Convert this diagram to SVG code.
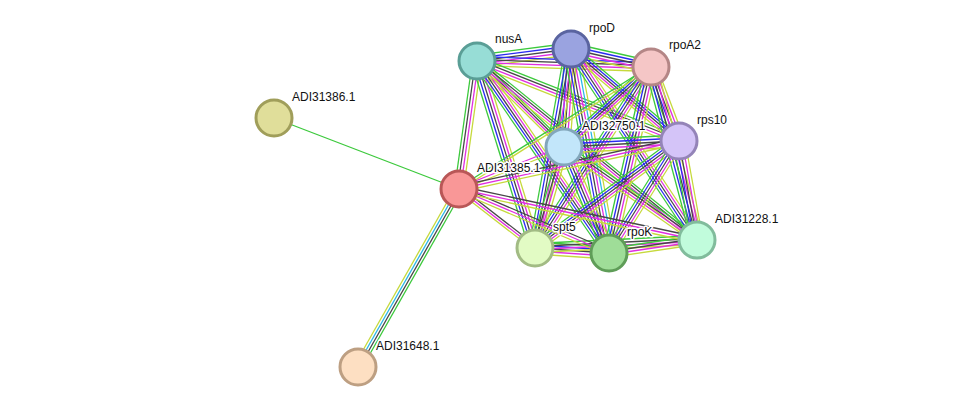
<svg xmlns="http://www.w3.org/2000/svg" xmlns:xlink="http://www.w3.org/1999/xlink" width="975" height="413" viewBox="0 0 975 413">
<style>
line{stroke-width:1.3;fill:none}
.g{stroke:#3cc93c}.b{stroke:#2a2af0}.k{stroke:#474747}.m{stroke:#e02ee0}.c{stroke:#2ab8e6}.y{stroke:#c6d93c}
circle{stroke-width:3}
text{font-family:"Liberation Sans",Arial,sans-serif;font-size:12px;fill:#111;stroke:#fff;stroke-width:3;paint-order:stroke;stroke-linejoin:round}
</style>
<defs>
<line id="AD" x1="477" y1="61" x2="571" y2="49"/>
<line id="AP" x1="477" y1="61" x2="651" y2="67"/>
<line id="DP" x1="571" y1="49" x2="651" y2="67"/>
<line id="AE" x1="477" y1="61" x2="564" y2="147"/>
<line id="AS" x1="477" y1="61" x2="679" y2="141"/>
<line id="AR" x1="477" y1="61" x2="459" y2="189"/>
<line id="AT" x1="477" y1="61" x2="535" y2="248"/>
<line id="AK" x1="477" y1="61" x2="609" y2="253"/>
<line id="AC" x1="477" y1="61" x2="697" y2="240"/>
<line id="DE" x1="571" y1="49" x2="564" y2="147"/>
<line id="DS" x1="571" y1="49" x2="679" y2="141"/>
<line id="DT" x1="571" y1="49" x2="535" y2="248"/>
<line id="DK" x1="571" y1="49" x2="609" y2="253"/>
<line id="DC" x1="571" y1="49" x2="697" y2="240"/>
<line id="PE" x1="651" y1="67" x2="564" y2="147"/>
<line id="PS" x1="651" y1="67" x2="679" y2="141"/>
<line id="PT" x1="651" y1="67" x2="535" y2="248"/>
<line id="PK" x1="651" y1="67" x2="609" y2="253"/>
<line id="PC" x1="651" y1="67" x2="697" y2="240"/>
<line id="PR" x1="651" y1="67" x2="459" y2="189"/>
<line id="ES" x1="564" y1="147" x2="679" y2="141"/>
<line id="ET" x1="564" y1="147" x2="535" y2="248"/>
<line id="EK" x1="564" y1="147" x2="609" y2="253"/>
<line id="EC" x1="564" y1="147" x2="697" y2="240"/>
<line id="ER" x1="564" y1="147" x2="459" y2="189"/>
<line id="ST" x1="679" y1="141" x2="535" y2="248"/>
<line id="SK" x1="679" y1="141" x2="609" y2="253"/>
<line id="SC" x1="679" y1="141" x2="697" y2="240"/>
<line id="SR" x1="679" y1="141" x2="459" y2="189"/>
<line id="TK" x1="535" y1="248" x2="609" y2="253"/>
<line id="TC" x1="535" y1="248" x2="697" y2="240"/>
<line id="KC" x1="609" y1="253" x2="697" y2="240"/>
<line id="RT" x1="459" y1="189" x2="535" y2="248"/>
<line id="RK" x1="459" y1="189" x2="609" y2="253"/>
<line id="RC" x1="459" y1="189" x2="697" y2="240"/>
<line id="RF" x1="459" y1="189" x2="358" y2="367"/>
</defs>
<g id="edges">
<line class="g" x1="459" y1="189" x2="274" y2="118"/>
<use href="#RF" class="y" x="-4.5"/><use href="#RF" class="c" x="-1.5"/><use href="#RF" class="k" x="1.5"/><use href="#RF" class="g" x="4.5"/>
<use href="#AD" class="g" y="-6"/><use href="#AD" class="b" y="-3"/><use href="#AD" class="k" y="0"/><use href="#AD" class="m" y="3"/><use href="#AD" class="y" y="6"/>
<use href="#AP" class="b" y="-4.5"/><use href="#AP" class="k" y="-1.5"/><use href="#AP" class="m" y="1.5"/><use href="#AP" class="y" y="4.5"/>
<use href="#DP" class="g" y="-6"/><use href="#DP" class="b" y="-3"/><use href="#DP" class="k" y="0"/><use href="#DP" class="m" y="3"/><use href="#DP" class="y" y="6"/>
<use href="#AE" class="g" y="-4.5"/><use href="#AE" class="k" y="-1.5"/><use href="#AE" class="m" y="1.5"/><use href="#AE" class="y" y="4.5"/>
<use href="#AS" class="g" y="-4.5"/><use href="#AS" class="k" y="-1.5"/><use href="#AS" class="m" y="1.5"/><use href="#AS" class="y" y="4.5"/>
<use href="#AR" class="g" x="-4.5"/><use href="#AR" class="k" x="-1.5"/><use href="#AR" class="m" x="1.5"/><use href="#AR" class="y" x="4.5"/>
<use href="#AT" class="g" x="-6"/><use href="#AT" class="b" x="-3"/><use href="#AT" class="k" x="0"/><use href="#AT" class="m" x="3"/><use href="#AT" class="y" x="6"/>
<use href="#AK" class="g" x="-6"/><use href="#AK" class="b" x="-3"/><use href="#AK" class="k" x="0"/><use href="#AK" class="m" x="3"/><use href="#AK" class="y" x="6"/>
<use href="#AC" class="g" y="-4.5"/><use href="#AC" class="k" y="-1.5"/><use href="#AC" class="m" y="1.5"/><use href="#AC" class="y" y="4.5"/>
<use href="#DE" class="g" x="-6"/><use href="#DE" class="b" x="-3"/><use href="#DE" class="k" x="0"/><use href="#DE" class="m" x="3"/><use href="#DE" class="y" x="6"/>
<use href="#DS" class="g" y="-6"/><use href="#DS" class="b" y="-3"/><use href="#DS" class="k" y="0"/><use href="#DS" class="m" y="3"/><use href="#DS" class="y" y="6"/>
<use href="#DT" class="g" x="-6"/><use href="#DT" class="b" x="-3"/><use href="#DT" class="k" x="0"/><use href="#DT" class="m" x="3"/><use href="#DT" class="y" x="6"/>
<use href="#DK" class="g" x="-7.5"/><use href="#DK" class="b" x="-4.5"/><use href="#DK" class="k" x="-1.5"/><use href="#DK" class="m" x="1.5"/><use href="#DK" class="c" x="4.5"/><use href="#DK" class="y" x="7.5"/>
<use href="#DC" class="g" x="-6"/><use href="#DC" class="b" x="-3"/><use href="#DC" class="k" x="0"/><use href="#DC" class="m" x="3"/><use href="#DC" class="y" x="6"/>
<use href="#PE" class="g" y="-6"/><use href="#PE" class="b" y="-3"/><use href="#PE" class="k" y="0"/><use href="#PE" class="m" y="3"/><use href="#PE" class="y" y="6"/>
<use href="#PS" class="g" x="-6"/><use href="#PS" class="b" x="-3"/><use href="#PS" class="k" x="0"/><use href="#PS" class="m" x="3"/><use href="#PS" class="y" x="6"/>
<use href="#PT" class="g" x="-6"/><use href="#PT" class="b" x="-3"/><use href="#PT" class="k" x="0"/><use href="#PT" class="m" x="3"/><use href="#PT" class="y" x="6"/>
<use href="#PK" class="g" x="-6"/><use href="#PK" class="b" x="-3"/><use href="#PK" class="k" x="0"/><use href="#PK" class="m" x="3"/><use href="#PK" class="y" x="6"/>
<use href="#PC" class="g" x="-6"/><use href="#PC" class="b" x="-3"/><use href="#PC" class="k" x="0"/><use href="#PC" class="m" x="3"/><use href="#PC" class="y" x="6"/>
<use href="#PR" class="g" y="-1.5"/><use href="#PR" class="y" y="1.5"/>
<use href="#ES" class="g" y="-6"/><use href="#ES" class="b" y="-3"/><use href="#ES" class="k" y="0"/><use href="#ES" class="m" y="3"/><use href="#ES" class="y" y="6"/>
<use href="#ET" class="g" x="-4.5"/><use href="#ET" class="k" x="-1.5"/><use href="#ET" class="m" x="1.5"/><use href="#ET" class="y" x="4.5"/>
<use href="#EK" class="g" x="-6"/><use href="#EK" class="b" x="-3"/><use href="#EK" class="k" x="0"/><use href="#EK" class="m" x="3"/><use href="#EK" class="y" x="6"/>
<use href="#EC" class="g" y="-4.5"/><use href="#EC" class="k" y="-1.5"/><use href="#EC" class="m" y="1.5"/><use href="#EC" class="y" y="4.5"/>
<use href="#ER" class="m" y="-1.5"/><use href="#ER" class="y" y="1.5"/>
<use href="#ST" class="g" y="-6"/><use href="#ST" class="b" y="-3"/><use href="#ST" class="k" y="0"/><use href="#ST" class="m" y="3"/><use href="#ST" class="y" y="6"/>
<use href="#SK" class="g" x="-6"/><use href="#SK" class="b" x="-3"/><use href="#SK" class="k" x="0"/><use href="#SK" class="m" x="3"/><use href="#SK" class="y" x="6"/>
<use href="#SC" class="g" x="-6"/><use href="#SC" class="b" x="-3"/><use href="#SC" class="k" x="0"/><use href="#SC" class="m" x="3"/><use href="#SC" class="y" x="6"/>
<use href="#SR" class="k" y="-3"/><use href="#SR" class="m" y="0"/><use href="#SR" class="y" y="3"/>
<use href="#TK" class="g" y="-6"/><use href="#TK" class="b" y="-3"/><use href="#TK" class="k" y="0"/><use href="#TK" class="m" y="3"/><use href="#TK" class="y" y="6"/>
<use href="#TC" class="g" y="-4.5"/><use href="#TC" class="k" y="-1.5"/><use href="#TC" class="m" y="1.5"/><use href="#TC" class="y" y="4.5"/>
<use href="#KC" class="g" y="-4.5"/><use href="#KC" class="k" y="-1.5"/><use href="#KC" class="m" y="1.5"/><use href="#KC" class="y" y="4.5"/>
<use href="#RT" class="k" y="-3"/><use href="#RT" class="m" y="0"/><use href="#RT" class="y" y="3"/>
<use href="#RK" class="k" y="-3"/><use href="#RK" class="m" y="0"/><use href="#RK" class="y" y="3"/>
<use href="#RC" class="k" y="-3"/><use href="#RC" class="m" y="0"/><use href="#RC" class="y" y="3"/>
</g>
<g id="nusA"><circle cx="477" cy="61" r="18" fill="#97ddd6" stroke="#5a9e96"/><text x="495" y="43">nusA</text></g>
<g id="rpoD"><circle cx="571" cy="49" r="18" fill="#9aa3e0" stroke="#5a64a0"/><text x="589" y="32">rpoD</text></g>
<g id="rpoA2"><circle cx="651" cy="67" r="18" fill="#f5c6c6" stroke="#b48686"/><text x="669" y="49">rpoA2</text></g>
<g id="ADI32750.1"><circle cx="564" cy="147" r="18" fill="#c2e6fa" stroke="#82a6ba"/><text x="582" y="130">ADI32750.1</text></g>
<g id="rps10"><circle cx="679" cy="141" r="18" fill="#d4c4f8" stroke="#9484b8"/><text x="697" y="124">rps10</text></g>
<g id="ADI31386.1"><circle cx="274" cy="118" r="18" fill="#e0de9a" stroke="#a09e5a"/><text x="292" y="101">ADI31386.1</text></g>
<g id="ADI31385.1"><circle cx="459" cy="189" r="18" fill="#f99797" stroke="#b95757"/><text x="477" y="172">ADI31385.1</text></g>
<g id="spt5"><circle cx="535" cy="248" r="18" fill="#e2fbc4" stroke="#a2bb84"/><text x="553" y="231">spt5</text></g>
<g id="rpoK"><circle cx="609" cy="253" r="18" fill="#9fdd98" stroke="#5f9d58"/><text x="627" y="236">rpoK</text></g>
<g id="ADI31228.1"><circle cx="697" cy="240" r="18" fill="#c1fcdc" stroke="#81bc9c"/><text x="715" y="223">ADI31228.1</text></g>
<g id="ADI31648.1"><circle cx="358" cy="367" r="18" fill="#fddfc2" stroke="#bd9f82"/><text x="376" y="350">ADI31648.1</text></g>
</svg>
